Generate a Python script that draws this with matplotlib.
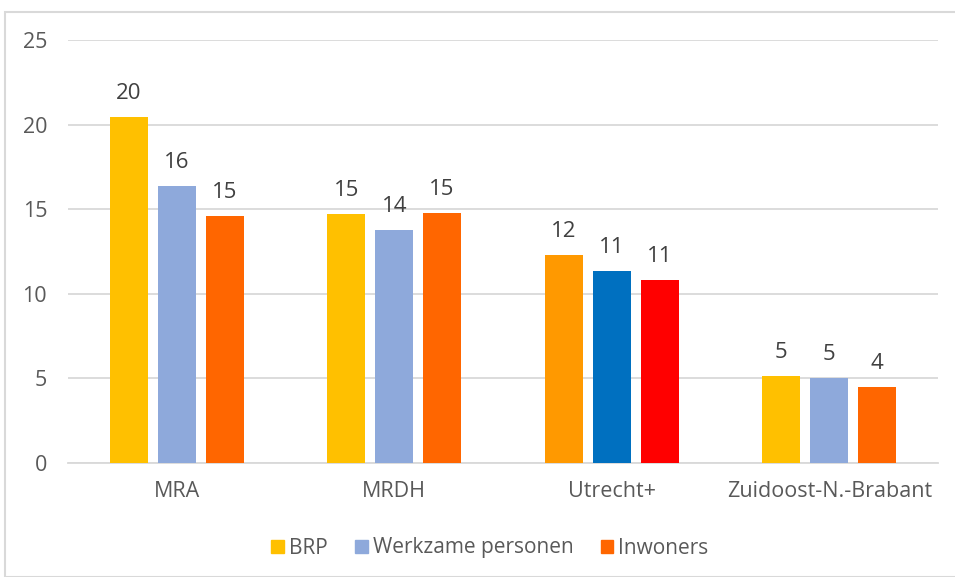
import numpy as np
import matplotlib
matplotlib.use("Agg")
import matplotlib.pyplot as plt
from matplotlib.patches import Rectangle, Patch

# data
regions = ["MRA", "MRDH", "Utrecht+", "Zuidoost-N.-Brabant"]
series = ["BRP", "Werkzame personen", "Inwoners"]
brp = [20.45, 14.72, 12.3, 5.14]
werkzaam = [16.37, 13.77, 11.35, 5.02]
inwoners = [14.6, 14.78, 10.82, 4.49]
labels_brp = ["20", "15", "12", "5"]
labels_werk = ["16", "14", "11", "5"]
labels_inw = ["15", "15", "11", "4"]

colors = ["#FFC000", "#8EA9DB", "#FF6600"]
# Utrecht+ group has its own colours
utrecht_colors = ["#FF9900", "#0070C0", "#FF0000"]

plt.rcParams["font.family"] = ["Open Sans", "DejaVu Sans"]

fig = plt.figure(figsize=(9.55, 5.77), dpi=100)
fig.patches.append(Rectangle((5 / 955, 0), 1, 1 - 12 / 577, transform=fig.transFigure,
                             fill=False, edgecolor="#D9D9D9", lw=1.5))
ax = fig.add_axes([68 / 955, 1 - 463 / 577, 870 / 955, 423 / 577])

x = np.arange(len(regions))
w = 0.174
off = 0.22
allvals = [brp, werkzaam, inwoners]
alllabels = [labels_brp, labels_werk, labels_inw]
for i, (vals, labs) in enumerate(zip(allvals, alllabels)):
    cols = [utrecht_colors[i] if r == "Utrecht+" else colors[i] for r in regions]
    pos = x + (i - 1) * off
    ax.bar(pos, vals, width=w, color=cols, zorder=3)
    for p, v, l in zip(pos, vals, labs):
        ax.text(p, v + 0.75, l, ha="center", va="bottom", fontsize=16, color="#404040")

ax.set_xlim(-0.5, 3.5)
ax.set_ylim(0, 25)
ax.set_yticks(range(0, 26, 5))
ax.set_xticks(x)
ax.set_xticklabels(regions)
ax.tick_params(length=0, labelsize=15.5, labelcolor="#595959")
ax.tick_params(axis="y", pad=15)
ax.tick_params(axis="x", pad=13)
ax.grid(axis="y", color="#D9D9D9", lw=1.3, zorder=0)
for s in ["top", "right", "left"]:
    ax.spines[s].set_visible(False)
ax.spines["bottom"].set_color("#D9D9D9")
ax.spines["bottom"].set_linewidth(1.3)

handles = [Patch(color=c, label=s) for c, s in zip(colors, series)]
fig.legend(handles=handles, loc="center", bbox_to_anchor=(490 / 955, 1 - 548 / 577),
           ncol=3, frameon=False, fontsize=15, handlelength=0.6, handleheight=0.6,
           handletextpad=0.25, columnspacing=1.3, labelcolor="#595959")

fig.savefig("out.png", dpi=100)
